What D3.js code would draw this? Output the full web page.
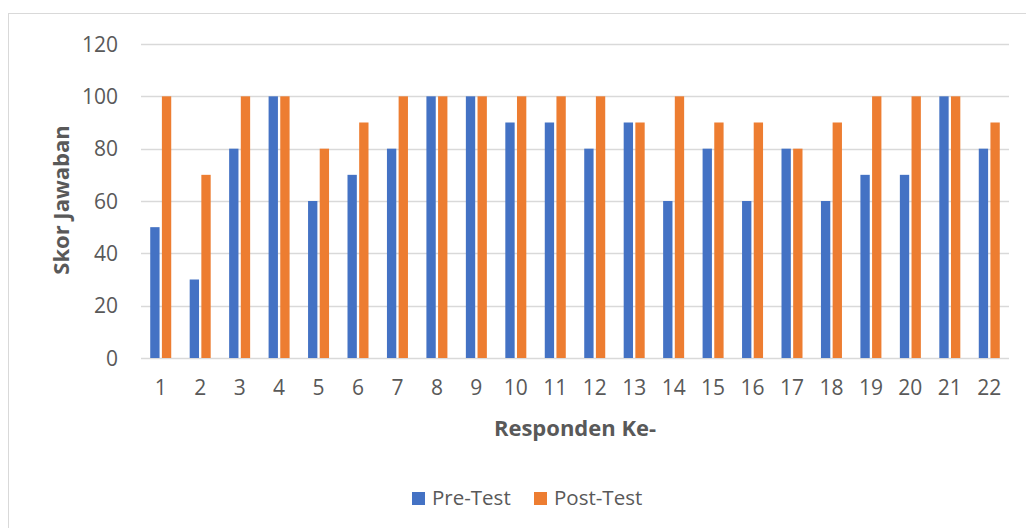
<!DOCTYPE html>
<html>
<head>
<meta charset="utf-8">
<script src="https://cdn.jsdelivr.net/npm/d3@7"></script>
<style>
  body { margin: 0; background: #fff; }
  text { font-family: "Open Sans", sans-serif; fill: #595959; }
</style>
</head>
<body>
<div id="bar_chart"></div>
<script>

// Data
var responden = ["1","2","3","4","5","6","7","8","9","10","11","12","13","14","15","16","17","18","19","20","21","22"];
var preTest  = [50,30,80,100,60,70,80,100,100,90,90,80,90,60,80,60,80,60,70,70,100,80];
var postTest = [100,70,100,100,80,90,100,100,100,100,100,100,90,100,90,90,80,90,100,100,100,90];
var seriesNames = ["Pre-Test", "Post-Test"];
var seriesColors = ["#4472C4", "#ED7D31"];
var yTicks = [0,20,40,60,80,100,120];

var w = 1026, h = 528;
var margin = {top: 44, right: 18, bottom: 170, left: 141};
var width = 1009 - margin.left;
var height = 358 - margin.top;

var svg = d3.select("#bar_chart").append("svg")
    .attr("width", w)
    .attr("height", h);

// chart border
svg.append("rect")
    .attr("x", 8.5).attr("y", 13.5)
    .attr("width", 1030).attr("height", 530)
    .attr("fill", "none")
    .attr("stroke", "#D9D9D9");

var g = svg.append("g")
    .attr("transform", "translate(" + margin.left + "," + margin.top + ")");

// scales
var x = d3.scaleBand().domain(responden).range([0, width]);
var x1 = d3.scaleBand().domain(seriesNames).range([-10.5, 10.5]).paddingInner(0.2);
var y = d3.scaleLinear().domain([0, 120]).range([height, 0]);

// gridlines
g.selectAll(".grid")
    .data(yTicks)
    .enter().append("line")
    .attr("x1", 0).attr("x2", width)
    .attr("y1", function(d) { return Math.round(y(d)) + 0.5; })
    .attr("y2", function(d) { return Math.round(y(d)) + 0.5; })
    .attr("stroke", "#D9D9D9")
    .attr("stroke-width", 1.3);

// y tick labels
g.selectAll(".ylab")
    .data(yTicks)
    .enter().append("text")
    .attr("x", -23)
    .attr("y", function(d) { return y(d); })
    .attr("dy", "0.36em")
    .attr("text-anchor", "end")
    .style("font-size", "21px")
    .text(function(d) { return d; });

// bars
var rows = responden.map(function(r, i) {
    return {cat: r, values: [preTest[i], postTest[i]]};
});

var grp = g.selectAll(".grp")
    .data(rows)
    .enter().append("g")
    .attr("transform", function(d) { return "translate(" + (x(d.cat) + x.bandwidth() / 2) + ",0)"; });

grp.selectAll("rect")
    .data(function(d) { return d.values.map(function(v, k) { return {key: seriesNames[k], v: v, k: k}; }); })
    .enter().append("rect")
    .attr("x", function(d) { return x1(d.key); })
    .attr("width", x1.bandwidth())
    .attr("y", function(d) { return y(d.v); })
    .attr("height", function(d) { return height - y(d.v); })
    .attr("fill", function(d) { return seriesColors[d.k]; });

// x tick labels
g.selectAll(".xlab")
    .data(responden)
    .enter().append("text")
    .attr("x", function(d) { return x(d) + x.bandwidth() / 2; })
    .attr("y", height + 37)
    .attr("text-anchor", "middle")
    .style("font-size", "21px")
    .text(function(d) { return d; });

// axis titles
svg.append("text")
    .attr("x", 575).attr("y", 436)
    .attr("text-anchor", "middle")
    .style("font-size", "22px")
    .style("font-weight", "bold")
    .text("Responden Ke-");

svg.append("text")
    .attr("transform", "translate(69,200) rotate(-90)")
    .attr("text-anchor", "middle")
    .style("font-size", "22px")
    .style("font-weight", "bold")
    .text("Skor Jawaban");

// legend
var legendX = [412, 534];
var leg = svg.selectAll(".leg")
    .data(seriesNames)
    .enter().append("g")
    .attr("transform", function(d, i) { return "translate(" + legendX[i] + ",492)"; });

leg.append("rect")
    .attr("width", 13).attr("height", 13)
    .attr("fill", function(d, i) { return seriesColors[i]; });

leg.append("text")
    .attr("x", 20).attr("y", 13)
    .style("font-size", "20.5px")
    .text(function(d) { return d; });

</script>
</body>
</html>
